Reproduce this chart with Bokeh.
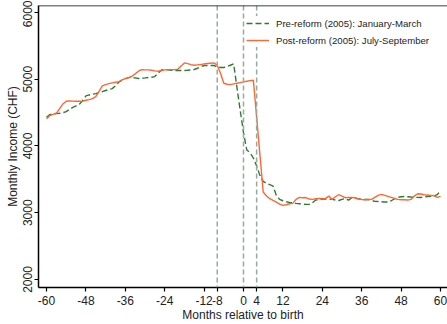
from bokeh.plotting import figure
from bokeh.models import Range1d, Span, FixedTicker, Legend, LegendItem
from bokeh.embed import file_html
from bokeh.resources import INLINE

# Months relative to birth
months = list(range(-60, 61))

# Average monthly income (CHF), mothers giving birth January-March 2005 (pre-reform)
pre_reform = [
    4430, 4470, 4480, 4487, 4490, 4500, 4515, 4550, 4577, 4600,   # -60..-51
    4625, 4680, 4750, 4765, 4775, 4785, 4800, 4815, 4831, 4845,   # -50..-41
    4860, 4900, 4955, 4985, 5010, 5025, 5026, 5020, 5011, 5015,   # -40..-31
    5020, 5026, 5030, 5040, 5090, 5140, 5146, 5140, 5135, 5131,   # -30..-21
    5131, 5131, 5131, 5135, 5140, 5146, 5165, 5190, 5206, 5206,   # -20..-11
    5206, 5206, 5185, 5176, 5176, 5190, 5210, 5230, 4880, 4530,   # -10..-1
    4200,                                                         # 0
    3940, 3900, 3820, 3700, 3560, 3470, 3440, 3420, 3400, 3260,   # 1..10
    3200, 3180, 3165, 3155, 3150, 3140, 3135, 3130, 3125, 3125,   # 11..20
    3150, 3190, 3200, 3205, 3205, 3205, 3200, 3190, 3183, 3200,   # 21..30
    3213, 3190, 3225, 3215, 3210, 3200, 3198, 3198, 3185, 3170,   # 31..40
    3168, 3165, 3162, 3160, 3180, 3210, 3230, 3240, 3243, 3240,   # 41..50
    3235, 3232, 3230, 3228, 3235, 3243, 3245, 3250, 3270, 3330,   # 51..60
]

# Average monthly income (CHF), mothers giving birth July-September 2005 (post-reform)
post_reform = [
    4410, 4455, 4475, 4490, 4560, 4630, 4670, 4675, 4672, 4670,   # -60..-51
    4672, 4668, 4685, 4695, 4710, 4740, 4820, 4900, 4920, 4935,   # -50..-41
    4945, 4955, 4965, 4990, 5010, 5025, 5045, 5080, 5120, 5145,   # -40..-31
    5140, 5140, 5135, 5125, 5120, 5130, 5140, 5145, 5145, 5145,   # -30..-21
    5150, 5200, 5245, 5235, 5220, 5210, 5215, 5220, 5230, 5235,   # -20..-11
    5240, 5245, 5210, 5090, 4940, 4925, 4920, 4930, 4940, 4950,   # -10..-1
    4960,                                                         # 0
    4970, 4980, 4985, 4430, 3870, 3310, 3250, 3210, 3185, 3160,   # 1..10
    3130, 3110, 3120, 3135, 3140, 3200, 3230, 3225, 3228, 3205,   # 11..20
    3200, 3210, 3215, 3212, 3215, 3250, 3200, 3240, 3270, 3250,   # 21..30
    3225, 3230, 3228, 3225, 3210, 3198, 3195, 3198, 3200, 3230,   # 31..40
    3260, 3275, 3260, 3245, 3230, 3215, 3200, 3195, 3195, 3190,   # 41..50
    3200, 3250, 3285, 3280, 3270, 3265, 3260, 3255, 3230, 3245,   # 51..60
]

x_ticks = [-60, -48, -36, -24, -12, -8, 0, 4, 12, 24, 36, 48, 60]
y_ticks = [2000, 3000, 4000, 5000, 6000]
marker_months = [-8, 0, 4]

series_labels = ["Pre-reform (2005): January-March", "Post-reform (2005): July-September"]

FONT = "Liberation Sans"
GREEN = "#2f7a2f"
ORANGE = "#ff6633"
MARKER = "#94aaa4"

p = figure(
    width=447, height=324,
    x_range=Range1d(-62.44, 62.13), y_range=Range1d(1880, 6105),
    output_backend="svg", toolbar_location=None,
    min_border_left=38, min_border_right=0, min_border_top=5, min_border_bottom=37,
)
p.background_fill_color = "white"
p.border_fill_color = "white"
p.outline_line_color = None
p.xgrid.visible = False
p.ygrid.visible = False

# Vertical reference lines at -8, 0 and +4 months
for m in marker_months:
    p.add_layout(Span(location=m, dimension="height", line_color=MARKER,
                      line_width=1.5, line_dash="5 3"))

# Top frame line
p.add_layout(Span(location=6105, dimension="width", line_color="black", line_width=1.5))

g_pre = p.line(months, pre_reform, line_color=GREEN, line_width=1.4, line_dash="6 3")
g_post = p.line(months, post_reform, line_color=ORANGE, line_width=1.4)

legend = Legend(
    items=[LegendItem(label=series_labels[0], renderers=[g_pre]),
           LegendItem(label=series_labels[1], renderers=[g_post])],
    location=(208, 240),
    glyph_width=23, glyph_height=14, label_height=14, spacing=3, padding=4,
    label_standoff=7, margin=0,
    label_text_font=FONT, label_text_font_size="9.6px", label_text_color="#222222",
    background_fill_color="white", background_fill_alpha=1.0,
    border_line_color=None,
)
p.add_layout(legend, "center")

# Axes
for ax in (p.xaxis[0], p.yaxis[0]):
    ax.axis_line_color = "black"
    ax.axis_line_width = 1.5
    ax.major_tick_line_color = "black"
    ax.major_tick_line_width = 1.2
    ax.major_tick_in = 0
    ax.major_tick_out = 4
    ax.minor_tick_line_color = None
    ax.major_label_text_font = FONT
    ax.major_label_text_font_size = "12px"
    ax.major_label_text_color = "#222222"
    ax.major_label_standoff = 2
    ax.axis_label_text_font = FONT
    ax.axis_label_text_font_size = "12px"
    ax.axis_label_text_font_style = "normal"
    ax.axis_label_text_color = "#222222"
    ax.axis_label_standoff = 1

p.xaxis.major_label_standoff = 4
p.xaxis.axis_label_standoff = 0
p.xaxis.ticker = FixedTicker(ticks=x_ticks)
p.yaxis.ticker = FixedTicker(ticks=y_ticks)
# Plain hyphen-minus in tick labels
p.xaxis.major_label_overrides = {t: str(t) for t in x_ticks}
p.yaxis.major_label_overrides = {t: str(t) for t in y_ticks}
p.yaxis.major_label_orientation = "vertical"
p.xaxis.axis_label = "Months relative to birth"
p.yaxis.axis_label = "Monthly Income (CHF)"

open("out.html", "w").write(file_html(p, INLINE))
